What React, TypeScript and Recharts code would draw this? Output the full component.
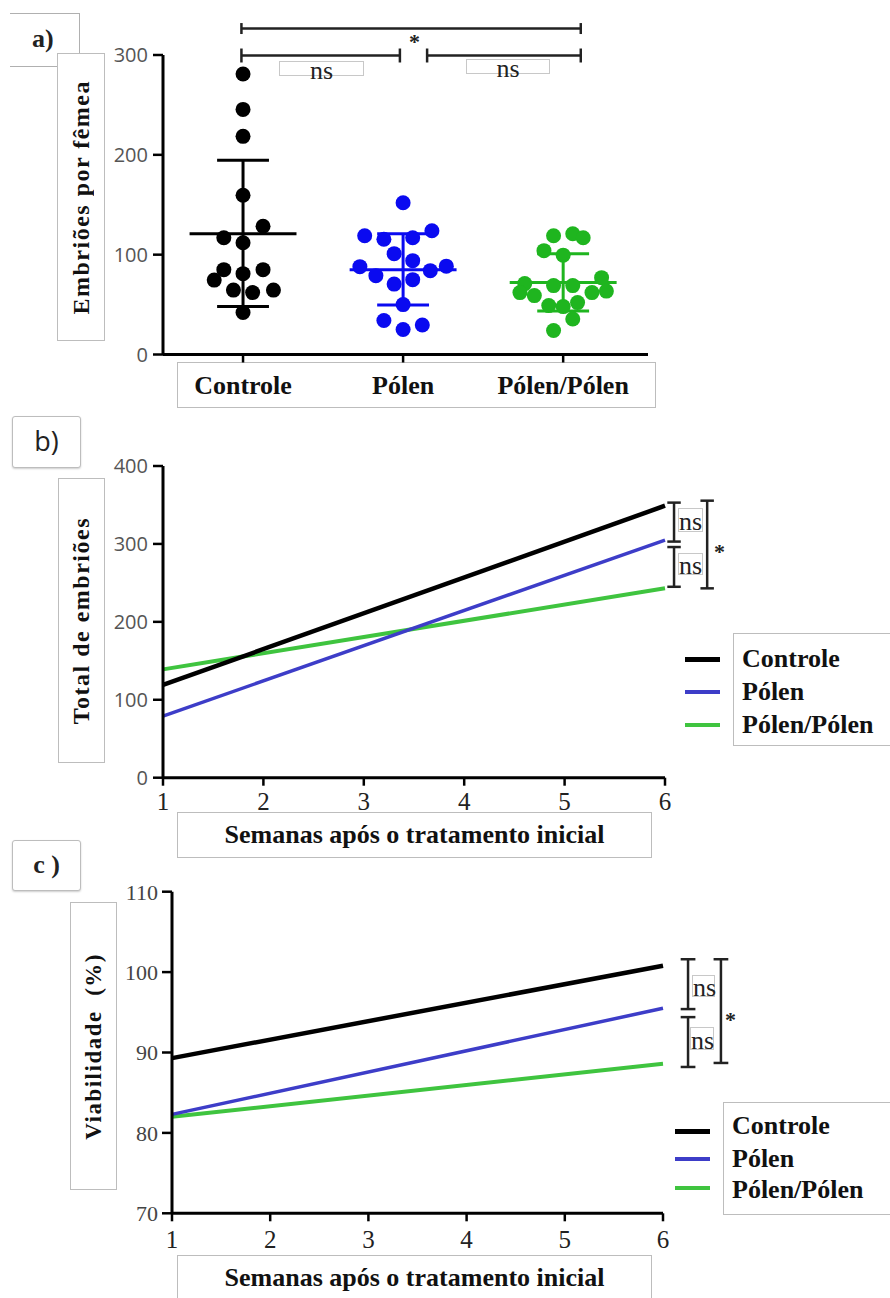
import React from 'react';
import { ScatterChart, Scatter, LineChart, Line, XAxis, YAxis, ReferenceLine } from 'recharts';

const groups = ['Controle', 'Pólen', 'Pólen/Pólen'];
const groupColors = ['#000000', '#0a0af0', '#1fb51f'];
const lineColors = ['#000000', '#3d3dc8', '#3fc43f'];

// panel a: [jitter offset (category units), embryos per female]
const controleEmbryos = [
  [0, 281], [0, 245.5], [0, 218.5], [0, 159.5], [0.125, 128.5], [-0.12, 117], [0, 112],
  [-0.12, 85], [0.125, 85], [0, 81], [-0.18, 74.5], [-0.06, 64.5], [0.06, 62], [0.19, 64.5], [0, 42],
];
const polenEmbryos = [
  [0, 152], [-0.24, 119], [-0.12, 115.5], [0.06, 117], [0.18, 124], [-0.056, 101], [0.06, 94],
  [-0.27, 88], [0.27, 88.5], [-0.17, 79], [0.17, 84], [-0.056, 70.5], [0.06, 75], [0, 50],
  [-0.12, 34], [0, 25], [0.12, 29.5],
];
const polenPolenEmbryos = [
  [-0.06, 119], [0.06, 121], [0.125, 117], [-0.12, 104], [0, 99.5], [-0.24, 71], [-0.06, 69],
  [0.06, 69], [0.24, 77], [-0.27, 62], [0.27, 63.5], [-0.18, 59], [0.18, 62], [-0.09, 49], [0, 48],
  [0.09, 52], [0.06, 35.5], [-0.06, 24],
];
const groupMeans = [121, 85, 72];
const groupSdLow = [48, 49.5, 43.5];
const groupSdHigh = [194.5, 121, 101];
const embryoTicks = [0, 100, 200, 300];

// panel b / c
const weeks = [1, 6];
const weekTicks = [1, 2, 3, 4, 5, 6];
const totalControle = [119, 349];
const totalPolen = [79, 305];
const totalPolenPolen = [139, 243];
const totalTicks = [0, 100, 200, 300, 400];
const viabControle = [89.3, 100.8];
const viabPolen = [82.3, 95.5];
const viabPolenPolen = [82.0, 88.6];
const viabTicks = [70, 80, 90, 100, 110];

// significance brackets (data units)
const bracketsA = [
  { x1: 0.99, x2: 3.11, y: 326.5, h: 5.5 },
  { x1: 0.99, x2: 1.98, y: 299.5, h: 7 },
  { x1: 2.15, x2: 3.11, y: 299.5, h: 7 },
];
const bracketsB = [
  { x: 6.09, y1: 303, y2: 353 },
  { x: 6.09, y1: 245, y2: 296 },
  { x: 6.42, y1: 243, y2: 355.5 },
];
const bracketsC = [
  { x: 6.255, y1: 95.4, y2: 101.6 },
  { x: 6.255, y1: 88.2, y2: 94.4 },
  { x: 6.59, y1: 88.7, y2: 101.6 },
];

const serif = "'Liberation Serif', 'Times New Roman', serif";
const sans = "'Open Sans', 'Liberation Sans', sans-serif";

const embryoSets = [controleEmbryos, polenEmbryos, polenPolenEmbryos];
const scatterData = embryoSets.map((set, i) => set.map(([dx, v]) => ({ x: i + 1 + dx, y: v })));

const totalRows = weeks.map((w, i) => ({
  week: w, controle: totalControle[i], polen: totalPolen[i], polenPolen: totalPolenPolen[i],
}));
const viabRows = weeks.map((w, i) => ({
  week: w, controle: viabControle[i], polen: viabPolen[i], polenPolen: viabPolenPolen[i],
}));

const seg = (key: string, x1: number, y1: number, x2: number, y2: number, color = '#222', w = 2.5) => (
  <ReferenceLine
    key={key}
    segment={[{ x: x1, y: y1 }, { x: x2, y: y2 }]}
    stroke={color}
    strokeWidth={w}
    ifOverflow="visible"
  />
);

const hBrackets = (list: typeof bracketsA) =>
  list.flatMap((b, i) => [
    seg(`h${i}`, b.x1, b.y, b.x2, b.y),
    seg(`hl${i}`, b.x1, b.y - b.h, b.x1, b.y + b.h),
    seg(`hr${i}`, b.x2, b.y - b.h, b.x2, b.y + b.h),
  ]);

const vBrackets = (list: typeof bracketsB, cap: number) =>
  list.flatMap((b, i) => [
    seg(`v${i}`, b.x, b.y1, b.x, b.y2),
    seg(`vb${i}`, b.x - cap, b.y1, b.x + cap, b.y1),
    seg(`vt${i}`, b.x - cap, b.y2, b.x + cap, b.y2),
  ]);

const statLines = groups.flatMap((g, i) => {
  const c = i + 1;
  const col = groupColors[i];
  return [
    seg(`m${i}`, c - 0.334, groupMeans[i], c + 0.334, groupMeans[i], col, 3),
    seg(`s${i}`, c, groupSdLow[i], c, groupSdHigh[i], col, 3),
    seg(`lo${i}`, c - 0.162, groupSdLow[i], c + 0.162, groupSdLow[i], col, 3),
    seg(`hi${i}`, c - 0.162, groupSdHigh[i], c + 0.162, groupSdHigh[i], col, 3),
  ];
});

const CategoryTick = (props: any) => (
  <text x={props.x} y={props.y + 29} textAnchor="middle" fontFamily={serif} fontWeight="bold" fontSize={26} fill="#111">
    {groups[props.payload.value - 1]}
  </text>
);

const makeWeekTick = (dy: number) => (props: any) => (
  <text x={props.x} y={props.y + dy} textAnchor="middle" fontFamily={serif} fontSize={25} fill="#222">
    {props.payload.value}
  </text>
);

const axisLine = { stroke: '#000', strokeWidth: 3 };
const tickLine = { stroke: '#000', strokeWidth: 2.5 };

const box: React.CSSProperties = {
  position: 'absolute', boxSizing: 'border-box', border: '1px solid #bdbdbd', background: '#fff',
};

const VLabel = ({ left, top, width, height, text, size }: any) => (
  <div style={{ ...box, left, top, width, height, display: 'flex', alignItems: 'center', justifyContent: 'center' }}>
    <span style={{
      writingMode: 'vertical-rl', transform: 'rotate(180deg)', fontFamily: serif, fontWeight: 'bold',
      fontSize: size, letterSpacing: 1.5, whiteSpace: 'pre', color: '#111',
    }}>{text}</span>
  </div>
);

const NsBox = ({ left, top, width, height }: any) => (
  <div style={{ ...box, left, top, width, height, border: '1px solid #c8c8c8', background: 'transparent' }}>
    <div style={{
      position: 'absolute', left: 0, right: 0, top: height / 2 - 14, textAlign: 'center', fontFamily: serif,
      fontSize: 26, lineHeight: '30px', color: '#222',
    }}>ns</div>
  </div>
);

const Star = ({ left, top }: any) => (
  <div style={{ position: 'absolute', left, top, fontFamily: serif, fontWeight: 'bold', fontSize: 22, lineHeight: '22px', color: '#222' }}>*</div>
);

const Legend = ({ left, top, boxLeft, boxTop, rows }: any) => (
  <>
    <div style={{ ...box, left: boxLeft, top: boxTop, width: 170, height: 113 }} />
    {groups.map((g, i) => (
      <React.Fragment key={g}>
        <div style={{
          position: 'absolute', left, top: rows[i].line - 2.5, width: 35, height: i === 0 ? 5 : 4,
          background: lineColors[i],
        }} />
        <div style={{
          position: 'absolute', left: boxLeft + 9, top: rows[i].text - 16, lineHeight: '32px', fontFamily: serif,
          fontWeight: 'bold', fontSize: 26, color: '#111', whiteSpace: 'nowrap',
        }}>{g}</div>
      </React.Fragment>
    ))}
  </>
);

const XLabel = ({ top }: any) => (
  <div style={{
    ...box, left: 177, top, width: 475, height: 46, display: 'flex', alignItems: 'center', justifyContent: 'center',
    fontFamily: serif, fontWeight: 'bold', fontSize: 26, color: '#111',
  }}>Semanas após o tratamento inicial</div>
);

const App = () => (
  <div style={{ position: 'absolute', left: 0, top: 0, width: 890, height: 1298, overflow: 'hidden', background: '#fff' }}>
    {/* panel a */}
    <div style={{ ...box, left: 10, top: 13, width: 70, height: 54, borderLeft: 'none', borderColor: '#b0b0b0' }}>
      <div style={{ position: 'absolute', left: 22, top: 10, fontFamily: serif, fontWeight: 'bold', fontSize: 26, lineHeight: '30px', color: '#222' }}>a)</div>
    </div>
    <VLabel left={57} top={53} width={48} height={288} text="Embriões por fêmea" size={24} />
    <div style={{ ...box, left: 177, top: 362, width: 479, height: 46 }} />
    <NsBox left={279} top={61} width={85} height={15} />
    <NsBox left={466} top={59} width={84} height={15} />
    <Star left={409} top={31} />
    <div style={{ position: 'absolute', left: 0, top: 0 }}>
      <ScatterChart width={700} height={420} margin={{ top: 55, right: 52, bottom: 15.5, left: 113 }}>
        <XAxis type="number" dataKey="x" domain={[0.5, 3.53]} ticks={[1, 2, 3]} allowDataOverflow interval={0}
          height={50} axisLine={axisLine} tickLine={tickLine} tickSize={8} tick={<CategoryTick />} />
        <YAxis type="number" dataKey="y" domain={[0, 300]} ticks={embryoTicks} allowDataOverflow width={50}
          axisLine={axisLine} tickLine={tickLine} tickSize={10} tickMargin={5}
          tick={{ fill: '#555', fontSize: 20, fontFamily: sans }} />
        {scatterData.map((pts, i) => (
          <Scatter key={groups[i]} name={groups[i]} data={pts} fill={groupColors[i]} isAnimationActive={false}
            shape={(p: any) => <circle cx={p.cx} cy={p.cy} r={7.5} fill={groupColors[i]} />} />
        ))}
        {statLines}
        {hBrackets(bracketsA)}
      </ScatterChart>
    </div>

    {/* panel b */}
    <div style={{ ...box, left: 12, top: 416, width: 69, height: 52, borderRadius: 3, boxShadow: '0 1px 2px rgba(0,0,0,0.2)' }}>
      <div style={{ position: 'absolute', left: 0, right: 0, top: 8, textAlign: 'center', fontFamily: sans, fontSize: 27, lineHeight: '32px', color: '#222' }}>b)</div>
    </div>
    <VLabel left={58} top={478} width={47} height={285} text="Total de embriões" size={24} />
    <XLabel top={812} />
    <Legend left={685} boxLeft={733} boxTop={633}
      rows={[{ line: 659, text: 659 }, { line: 692, text: 692 }, { line: 725, text: 725 }]} />
    <NsBox left={678} top={508} width={25} height={24} />
    <NsBox left={678} top={553} width={25} height={22} />
    <Star left={714} top={541} />
    <div style={{ position: 'absolute', left: 0, top: 400 }}>
      <LineChart width={890} height={440} data={totalRows} margin={{ top: 66, right: 225, bottom: 22.3, left: 113 }}>
        <XAxis type="number" dataKey="week" domain={[1, 6]} ticks={weekTicks} interval={0} height={40}
          axisLine={axisLine} tickLine={tickLine} tickSize={8} tick={makeWeekTick(22)} />
        <YAxis type="number" domain={[0, 400]} ticks={totalTicks} width={50} axisLine={axisLine} tickLine={tickLine}
          tickSize={10} tickMargin={5} tick={{ fill: '#555', fontSize: 20, fontFamily: sans }} />
        <Line type="linear" dataKey="polenPolen" stroke={lineColors[2]} strokeWidth={4} dot={false} isAnimationActive={false} />
        <Line type="linear" dataKey="polen" stroke={lineColors[1]} strokeWidth={3.5} dot={false} isAnimationActive={false} />
        <Line type="linear" dataKey="controle" stroke={lineColors[0]} strokeWidth={4.5} dot={false} isAnimationActive={false} />
        {vBrackets(bracketsB, 0.067)}
      </LineChart>
    </div>

    {/* panel c */}
    <div style={{ ...box, left: 12, top: 840, width: 69, height: 51, borderRadius: 3, boxShadow: '0 1px 2px rgba(0,0,0,0.2)' }}>
      <div style={{ position: 'absolute', left: 0, right: 0, top: 9, textAlign: 'center', fontFamily: serif, fontWeight: 'bold', fontSize: 26, lineHeight: '30px', color: '#222', whiteSpace: 'pre' }}>{'c )'}</div>
    </div>
    <VLabel left={70} top={902} width={47} height={288} text="Viabilidade  (%)" size={23} />
    <XLabel top={1255} />
    <Legend left={675} boxLeft={723} boxTop={1102}
      rows={[{ line: 1131, text: 1126 }, { line: 1159, text: 1159 }, { line: 1188, text: 1190 }]} />
    <NsBox left={692} top={975} width={23} height={22} />
    <NsBox left={690} top={1027} width={24} height={23} />
    <Star left={725} top={1009} />
    <div style={{ position: 'absolute', left: 0, top: 840 }}>
      <LineChart width={890} height={440} data={viabRows} margin={{ top: 51.7, right: 227, bottom: 26.7, left: 122 }}>
        <XAxis type="number" dataKey="week" domain={[1, 6]} ticks={weekTicks} interval={0} height={40}
          axisLine={axisLine} tickLine={tickLine} tickSize={8} tick={makeWeekTick(25)} />
        <YAxis type="number" domain={[70, 110]} ticks={viabTicks} width={50} axisLine={axisLine} tickLine={tickLine}
          tickSize={10} tickMargin={4} tick={{ fill: '#444', fontSize: 22, fontFamily: serif }} />
        <Line type="linear" dataKey="polenPolen" stroke={lineColors[2]} strokeWidth={4} dot={false} isAnimationActive={false} />
        <Line type="linear" dataKey="polen" stroke={lineColors[1]} strokeWidth={3.5} dot={false} isAnimationActive={false} />
        <Line type="linear" dataKey="controle" stroke={lineColors[0]} strokeWidth={4.5} dot={false} isAnimationActive={false} />
        {vBrackets(bracketsC, 0.075)}
      </LineChart>
    </div>
  </div>
);

export default App;
